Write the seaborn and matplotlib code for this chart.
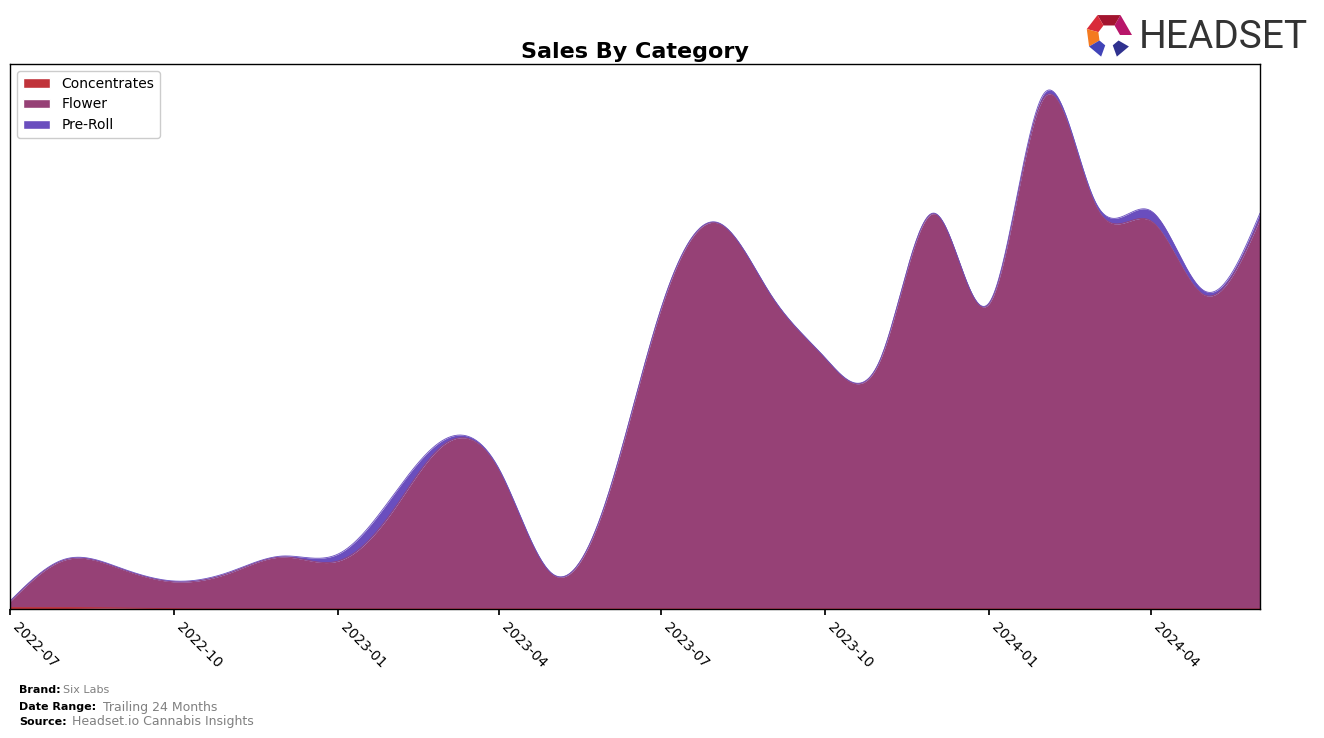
import numpy as np
import pandas as pd
import matplotlib
matplotlib.use("Agg")
import matplotlib.pyplot as plt
import matplotlib.dates as mdates
from matplotlib.patches import Polygon, Patch
import seaborn as sns

# ---------------- data ----------------
months = pd.date_range("2022-07-01", "2024-06-01", freq="MS")
categories = ["Concentrates", "Flower", "Pre-Roll"]
concentrates = [1.5, 1.5, 1.0, 0.3, 0, 0, 0, 0, 0, 0, 0, 0,
                0, 0, 0, 0, 0, 0, 0, 0, 0, 0, 0, 0]
flower = [6, 47.7, 39.2, 26.9, 36, 52, 48, 99, 164, 139.5, 35, 111.5,
          299.5, 386.5, 313, 251, 249, 395.5, 305.2, 512, 403, 388, 314, 390]
pre_roll = [0.5, 0.8, 0.8, 0.8, 1.0, 1.0, 7, 15, 5, 1.5, 0.5, 0.5,
            0.5, 0.5, 0.5, 0.5, 0.5, 0.5, 0.8, 4, 3, 10, 4, 6]
colors = ["#C0333A", "#964176", "#6A4EBE"]
tick_dates = pd.date_range("2022-07-01", "2024-04-01", freq="3MS")


def cubic_spline(x, y, xs):
    """Natural cubic spline."""
    x = np.asarray(x, float)
    y = np.asarray(y, float)
    n = len(x)
    h = np.diff(x)
    A = np.zeros((n, n))
    b = np.zeros(n)
    A[0, 0] = 1.0
    A[-1, -1] = 1.0
    for i in range(1, n - 1):
        A[i, i - 1] = h[i - 1]
        A[i, i] = 2 * (h[i - 1] + h[i])
        A[i, i + 1] = h[i]
        b[i] = 6 * ((y[i + 1] - y[i]) / h[i] - (y[i] - y[i - 1]) / h[i - 1])
    M = np.linalg.solve(A, b)
    idx = np.clip(np.searchsorted(x, xs) - 1, 0, n - 2)
    x0, x1 = x[idx], x[idx + 1]
    hh = x1 - x0
    t0, t1 = x1 - xs, xs - x0
    return (M[idx] * t0 ** 3 / (6 * hh) + M[idx + 1] * t1 ** 3 / (6 * hh)
            + (y[idx] / hh - M[idx] * hh / 6) * t0
            + (y[idx + 1] / hh - M[idx + 1] * hh / 6) * t1)


xnum = mdates.date2num(months)
xs = np.linspace(xnum[0], xnum[-1], 800)
series = [np.clip(cubic_spline(xnum, s, xs), 0, None)
          for s in (concentrates, flower, pre_roll)]

# ---------------- style ----------------
sns.set_theme(style="white", rc={"axes.edgecolor": "black", "axes.linewidth": 1.0,
                                 "xtick.bottom": True, "xtick.color": "black",
                                 "xtick.major.size": 4, "text.color": "black",
                                 "axes.labelcolor": "black", "axes.titlecolor": "black"})
plt.rcParams["font.family"] = ["DejaVu Sans"]

fig = plt.figure(figsize=(13.24, 7.38), dpi=100)
ax = fig.add_axes([10 / 1324, 1 - 609 / 738, 1250 / 1324, 545 / 738])

ax.stackplot(xs, *series, colors=colors, labels=categories, linewidth=0)
cum = np.cumsum(np.vstack(series), axis=0)
for i, c in enumerate(colors):
    sns.lineplot(x=xs, y=cum[i], color=c, linewidth=0.6, ax=ax, legend=False)

ax.set_xlim(xnum[0], xnum[-1])
ax.set_ylim(0, cum[-1].max() * 1.05)
ax.set_yticks([])
ax.set_xticks(mdates.date2num(tick_dates))
ax.set_xticklabels([d.strftime("%Y-%m") for d in tick_dates], rotation=-45,
                   ha="left", fontsize=10, color="black")
ax.tick_params(axis="x", pad=4)
ax.set_xlabel("")
ax.set_ylabel("")
for s in ax.spines.values():
    s.set_visible(True)
    s.set_color("black")

handles = [Patch(facecolor=c, label=l) for c, l in zip(colors, categories)]
leg = ax.legend(handles=handles, loc="upper left", fontsize=10, frameon=True,
                framealpha=1, edgecolor="#cccccc", fancybox=True)
for t in leg.get_texts():
    t.set_color("black")

ax.set_title("Sales By Category", fontsize=16, fontweight="bold", pad=4, color="black")

# ---------------- overlay (logo + footer) ----------------
ov = fig.add_axes([0, 0, 1, 1], zorder=5)
ov.set_xlim(0, 1324)
ov.set_ylim(738, 0)
ov.axis("off")
ov.patch.set_alpha(0)

cx, cy = 1109, 35
R, r = 23, 11
angles = [(0, 60), (60, 120), (120, 165), (165, 210), (210, 250), (290, 330)]
seg_colors = ["#B8166A", "#A3142F", "#D92B3A", "#F47A20", "#4144B8", "#2F318F"]
for (a0, a1), c in zip(angles, seg_colors):
    a0r, a1r = np.deg2rad(a0), np.deg2rad(a1)
    pts = [(cx + R * np.cos(a0r), cy - R * np.sin(a0r)),
           (cx + R * np.cos(a1r), cy - R * np.sin(a1r)),
           (cx + r * np.cos(a1r), cy - r * np.sin(a1r)),
           (cx + r * np.cos(a0r), cy - r * np.sin(a0r))]
    ov.add_patch(Polygon(pts, closed=True, facecolor=c, edgecolor="none"))
ov.text(1139, 37, "HEADSET", fontsize=28, color="#333333", va="center", ha="left",
        family=["Roboto", "DejaVu Sans"])

ov.text(19, 690, "Brand:", fontsize=8, fontweight="bold", va="center", ha="left")
ov.text(63, 690, "Six Labs", fontsize=8, color="gray", va="center", ha="left")
ov.text(19, 707, "Date Range:", fontsize=8, fontweight="bold", va="center", ha="left")
ov.text(103, 707, "Trailing 24 Months", fontsize=9, color="gray", va="center", ha="left")
ov.text(19, 722, "Source:", fontsize=8, fontweight="bold", va="center", ha="left")
ov.text(72, 722, "Headset.io Cannabis Insights", fontsize=9, color="gray",
        va="center", ha="left")

fig.savefig("out.png", dpi=100)
